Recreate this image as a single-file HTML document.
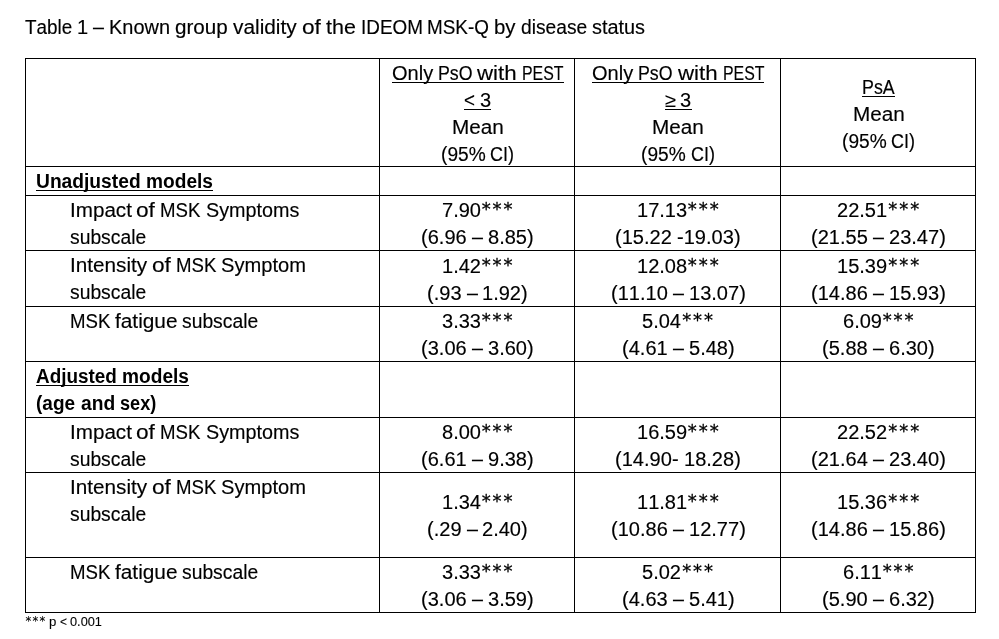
<!DOCTYPE html>
<html lang="en">
<head>
<meta charset="utf-8">
<title>Table 1 – Known group validity of the IDEOM MSK-Q by disease status</title>
<style>
  html, body { margin: 0; padding: 0; background: #fff; }
  body {
    width: 999px; height: 639px; position: relative; overflow: hidden;
    font-family: "Liberation Sans", "DejaVu Sans", sans-serif;
    font-size: 19.5px; line-height: 27px; color: #000;
    font-kerning: none; word-spacing: -0.44px;
    -webkit-text-stroke: 0.15px #000;
  }
  .caption { position: absolute; left: 25px; top: 14px; margin: 0; white-space: nowrap; }
  table {
    position: absolute; left: 25px; top: 58px;
    border-collapse: collapse; table-layout: fixed; width: 951px;
  }
  td, th {
    border: 1px solid #000; padding: 0; font-weight: normal;
    text-align: center; vertical-align: middle; white-space: nowrap;
  }
  td > div, th > div { position: relative; top: 1px; left: 0.6px; }
  thead th > div { margin-bottom: -1px; }
  .t { display: inline-block; text-decoration: none; }
  .w { display: inline-block; transform-origin: 0 50%; }
  .a { display: inline-block; position: relative; left: 1px; top: -2px; font-family: "DejaVu Sans", "Liberation Sans", sans-serif; font-size: 18px; line-height: 20px; letter-spacing: 1.96px; vertical-align: baseline; -webkit-text-stroke: 0.3px #000; }
  u.t { background: linear-gradient(#000, #000) 0 22px / 100% 1px no-repeat; }
  th.lbl { text-align: left; vertical-align: top; }
  th.sec { font-weight: bold; -webkit-text-stroke: 0; }
  th.sec > div { padding-left: 9.9px; }
  th.sub > div { padding-left: 43px; }
  .foot { position: absolute; left: 25px; top: 613px; margin: 0; font-size: 12.41px; line-height: 18px; white-space: nowrap; word-spacing: -0.28px; -webkit-text-stroke: 0.1px #000; }
  .foot .a { font-size: 11.5px; line-height: 12px; letter-spacing: 1.22px; left: 0.6px; top: -1.3px; -webkit-text-stroke: 0.1px #000; }
</style>
</head>
<body>
<p class="caption"><span class="t"><span class="w" style="transform:scaleX(0.9679);margin-right:-1.57px">Table</span> <span class="w" style="transform:scaleX(1.0282);margin-right:0.31px">1</span> <span class="w" style="transform:scaleX(1.0103);margin-right:0.11px">–</span> <span class="w" style="transform:scaleX(1.0243);margin-right:1.45px">Known</span> <span class="w" style="transform:scaleX(1.0576);margin-right:2.87px">group</span> <span class="w" style="transform:scaleX(1.0688);margin-right:4.10px">validity</span> <span class="w" style="transform:scaleX(1.1631);margin-right:2.65px">of</span> <span class="w" style="transform:scaleX(1.1021);margin-right:2.77px">the</span> <span class="w" style="transform:scaleX(0.9684);margin-right:-2.02px">IDEOM</span> <span class="w" style="transform:scaleX(0.9682);margin-right:-2.03px">MSK-Q</span> <span class="w" style="transform:scaleX(1.0448);margin-right:0.92px">by</span> <span class="w" style="transform:scaleX(0.9856);margin-right:-0.97px">disease</span> <span class="w" style="transform:scaleX(1.0196);margin-right:1.02px">status</span></span></p>
<table>
  <colgroup><col style="width:354px"><col style="width:195px"><col style="width:206px"><col style="width:195px"></colgroup>
  <thead>
  <tr style="height:108px">
    <th class="lbl"></th>
    <th scope="col"><div><u class="t"><span class="w" style="transform:scaleX(1.0259);margin-right:1.04px">Only</span> <span class="w" style="transform:scaleX(0.9107);margin-right:-3.39px">PsO</span> <span class="w" style="transform:scaleX(1.1449);margin-right:5.03px">with</span> <span class="w" style="transform:scaleX(0.8136);margin-right:-9.49px">PEST</span></u><br><u class="t"><span class="w" style="transform:scaleX(0.9622);margin-right:-0.43px">&lt;</span> <span class="w" style="transform:scaleX(1.0282);margin-right:0.31px">3</span></u><br><span class="t"><span class="w" style="transform:scaleX(1.0630);margin-right:3.07px">Mean</span></span><br><span class="t"><span class="w" style="transform:scaleX(0.9819);margin-right:-0.82px">(95%</span> <span class="w" style="transform:scaleX(0.9212);margin-right:-2.05px">CI)</span></span></div></th>
    <th scope="col"><div><u class="t"><span class="w" style="transform:scaleX(1.0259);margin-right:1.04px">Only</span> <span class="w" style="transform:scaleX(0.9107);margin-right:-3.39px">PsO</span> <span class="w" style="transform:scaleX(1.1449);margin-right:5.03px">with</span> <span class="w" style="transform:scaleX(0.8136);margin-right:-9.49px">PEST</span></u><br><u class="t"><span class="w" style="transform:scaleX(1.0238);margin-right:0.25px">≥</span> <span class="w" style="transform:scaleX(1.0282);margin-right:0.31px">3</span></u><br><span class="t"><span class="w" style="transform:scaleX(1.0630);margin-right:3.07px">Mean</span></span><br><span class="t"><span class="w" style="transform:scaleX(0.9819);margin-right:-0.82px">(95%</span> <span class="w" style="transform:scaleX(0.9212);margin-right:-2.05px">CI)</span></span></div></th>
    <th scope="col"><div><u class="t"><span class="w" style="transform:scaleX(0.9143);margin-right:-3.06px">PsA</span></u><br><span class="t"><span class="w" style="transform:scaleX(1.0630);margin-right:3.07px">Mean</span></span><br><span class="t"><span class="w" style="transform:scaleX(0.9819);margin-right:-0.82px">(95%</span> <span class="w" style="transform:scaleX(0.9212);margin-right:-2.05px">CI)</span></span></div></th>
  </tr>
  </thead>
  <tbody>
  <tr style="height:29px">
    <th scope="row" class="lbl sec"><div><u class="t"><span class="w" style="transform:scaleX(0.9853);margin-right:-1.56px">Unadjusted</span> <span class="w" style="transform:scaleX(0.9809);margin-right:-1.30px">models</span></u></div></th>
    <td></td>
    <td></td>
    <td></td>
  </tr>
  <tr style="height:55px">
    <th scope="row" class="lbl sub"><div><span class="t"><span class="w" style="transform:scaleX(1.0575);margin-right:3.37px">Impact</span> <span class="w" style="transform:scaleX(1.1631);margin-right:2.65px">of</span> <span class="w" style="transform:scaleX(0.9548);margin-right:-1.91px">MSK</span> <span class="w" style="transform:scaleX(1.0135);margin-right:1.25px">Symptoms</span></span><br><span class="t"><span class="w" style="transform:scaleX(0.9896);margin-right:-0.80px">subscale</span></span></div></th>
    <td><div><span class="t"><span class="w" style="transform:scaleX(1.0277);margin-right:1.05px">7.90</span><span class="a">***</span></span><br><span class="t"><span class="w" style="transform:scaleX(1.0277);margin-right:1.23px">(6.96</span> <span class="w" style="transform:scaleX(1.0103);margin-right:0.11px">–</span> <span class="w" style="transform:scaleX(1.0277);margin-right:1.23px">8.85)</span></span></div></td>
    <td><div><span class="t"><span class="w" style="transform:scaleX(1.0278);margin-right:1.36px">17.13</span><span class="a">***</span></span><br><span class="t"><span class="w" style="transform:scaleX(1.0278);margin-right:1.53px">(15.22</span> <span class="w" style="transform:scaleX(1.0288);margin-right:1.78px">-19.03)</span></span></div></td>
    <td><div><span class="t"><span class="w" style="transform:scaleX(1.0278);margin-right:1.36px">22.51</span><span class="a">***</span></span><br><span class="t"><span class="w" style="transform:scaleX(1.0278);margin-right:1.53px">(21.55</span> <span class="w" style="transform:scaleX(1.0103);margin-right:0.11px">–</span> <span class="w" style="transform:scaleX(1.0278);margin-right:1.53px">23.47)</span></span></div></td>
  </tr>
  <tr style="height:56px">
    <th scope="row" class="lbl sub"><div><span class="t"><span class="w" style="transform:scaleX(1.0625);margin-right:4.54px">Intensity</span> <span class="w" style="transform:scaleX(1.1631);margin-right:2.65px">of</span> <span class="w" style="transform:scaleX(0.9548);margin-right:-1.91px">MSK</span> <span class="w" style="transform:scaleX(1.0315);margin-right:2.59px">Symptom</span></span><br><span class="t"><span class="w" style="transform:scaleX(0.9896);margin-right:-0.80px">subscale</span></span></div></th>
    <td><div><span class="t"><span class="w" style="transform:scaleX(1.0277);margin-right:1.05px">1.42</span><span class="a">***</span></span><br><span class="t"><span class="w" style="transform:scaleX(1.0275);margin-right:0.92px">(.93</span> <span class="w" style="transform:scaleX(1.0103);margin-right:0.11px">–</span> <span class="w" style="transform:scaleX(1.0277);margin-right:1.23px">1.92)</span></span></div></td>
    <td><div><span class="t"><span class="w" style="transform:scaleX(1.0278);margin-right:1.36px">12.08</span><span class="a">***</span></span><br><span class="t"><span class="w" style="transform:scaleX(1.0278);margin-right:1.53px">(11.10</span> <span class="w" style="transform:scaleX(1.0103);margin-right:0.11px">–</span> <span class="w" style="transform:scaleX(1.0278);margin-right:1.53px">13.07)</span></span></div></td>
    <td><div><span class="t"><span class="w" style="transform:scaleX(1.0278);margin-right:1.36px">15.39</span><span class="a">***</span></span><br><span class="t"><span class="w" style="transform:scaleX(1.0278);margin-right:1.53px">(14.86</span> <span class="w" style="transform:scaleX(1.0103);margin-right:0.11px">–</span> <span class="w" style="transform:scaleX(1.0278);margin-right:1.53px">15.93)</span></span></div></td>
  </tr>
  <tr style="height:55px">
    <th scope="row" class="lbl sub"><div><span class="t"><span class="w" style="transform:scaleX(0.9548);margin-right:-1.91px">MSK</span> <span class="w" style="transform:scaleX(1.0680);margin-right:3.98px">fatigue</span> <span class="w" style="transform:scaleX(0.9896);margin-right:-0.80px">subscale</span></span></div></th>
    <td><div><span class="t"><span class="w" style="transform:scaleX(1.0277);margin-right:1.05px">3.33</span><span class="a">***</span></span><br><span class="t"><span class="w" style="transform:scaleX(1.0277);margin-right:1.23px">(3.06</span> <span class="w" style="transform:scaleX(1.0103);margin-right:0.11px">–</span> <span class="w" style="transform:scaleX(1.0277);margin-right:1.23px">3.60)</span></span></div></td>
    <td><div><span class="t"><span class="w" style="transform:scaleX(1.0277);margin-right:1.05px">5.04</span><span class="a">***</span></span><br><span class="t"><span class="w" style="transform:scaleX(1.0277);margin-right:1.23px">(4.61</span> <span class="w" style="transform:scaleX(1.0103);margin-right:0.11px">–</span> <span class="w" style="transform:scaleX(1.0277);margin-right:1.23px">5.48)</span></span></div></td>
    <td><div><span class="t"><span class="w" style="transform:scaleX(1.0277);margin-right:1.05px">6.09</span><span class="a">***</span></span><br><span class="t"><span class="w" style="transform:scaleX(1.0277);margin-right:1.23px">(5.88</span> <span class="w" style="transform:scaleX(1.0103);margin-right:0.11px">–</span> <span class="w" style="transform:scaleX(1.0277);margin-right:1.23px">6.30)</span></span></div></td>
  </tr>
  <tr style="height:56px">
    <th scope="row" class="lbl sec"><div><u class="t"><span class="w" style="transform:scaleX(0.9684);margin-right:-2.64px">Adjusted</span> <span class="w" style="transform:scaleX(0.9809);margin-right:-1.30px">models</span></u><br><span class="t"><span class="w" style="transform:scaleX(0.9749);margin-right:-1.01px">(age</span> <span class="w" style="transform:scaleX(0.9854);margin-right:-0.51px">and</span> <span class="w" style="transform:scaleX(0.9297);margin-right:-2.74px">sex)</span></span></div></th>
    <td></td>
    <td></td>
    <td></td>
  </tr>
  <tr style="height:55px">
    <th scope="row" class="lbl sub"><div><span class="t"><span class="w" style="transform:scaleX(1.0575);margin-right:3.37px">Impact</span> <span class="w" style="transform:scaleX(1.1631);margin-right:2.65px">of</span> <span class="w" style="transform:scaleX(0.9548);margin-right:-1.91px">MSK</span> <span class="w" style="transform:scaleX(1.0135);margin-right:1.25px">Symptoms</span></span><br><span class="t"><span class="w" style="transform:scaleX(0.9896);margin-right:-0.80px">subscale</span></span></div></th>
    <td><div><span class="t"><span class="w" style="transform:scaleX(1.0277);margin-right:1.05px">8.00</span><span class="a">***</span></span><br><span class="t"><span class="w" style="transform:scaleX(1.0277);margin-right:1.23px">(6.61</span> <span class="w" style="transform:scaleX(1.0103);margin-right:0.11px">–</span> <span class="w" style="transform:scaleX(1.0277);margin-right:1.23px">9.38)</span></span></div></td>
    <td><div><span class="t"><span class="w" style="transform:scaleX(1.0278);margin-right:1.36px">16.59</span><span class="a">***</span></span><br><span class="t"><span class="w" style="transform:scaleX(1.0288);margin-right:1.78px">(14.90-</span> <span class="w" style="transform:scaleX(1.0278);margin-right:1.53px">18.28)</span></span></div></td>
    <td><div><span class="t"><span class="w" style="transform:scaleX(1.0278);margin-right:1.36px">22.52</span><span class="a">***</span></span><br><span class="t"><span class="w" style="transform:scaleX(1.0278);margin-right:1.53px">(21.64</span> <span class="w" style="transform:scaleX(1.0103);margin-right:0.11px">–</span> <span class="w" style="transform:scaleX(1.0278);margin-right:1.53px">23.40)</span></span></div></td>
  </tr>
  <tr style="height:85px">
    <th scope="row" class="lbl sub"><div><span class="t"><span class="w" style="transform:scaleX(1.0625);margin-right:4.54px">Intensity</span> <span class="w" style="transform:scaleX(1.1631);margin-right:2.65px">of</span> <span class="w" style="transform:scaleX(0.9548);margin-right:-1.91px">MSK</span> <span class="w" style="transform:scaleX(1.0315);margin-right:2.59px">Symptom</span></span><br><span class="t"><span class="w" style="transform:scaleX(0.9896);margin-right:-0.80px">subscale</span></span></div></th>
    <td><div><span class="t"><span class="w" style="transform:scaleX(1.0277);margin-right:1.05px">1.34</span><span class="a">***</span></span><br><span class="t"><span class="w" style="transform:scaleX(1.0275);margin-right:0.92px">(.29</span> <span class="w" style="transform:scaleX(1.0103);margin-right:0.11px">–</span> <span class="w" style="transform:scaleX(1.0277);margin-right:1.23px">2.40)</span></span></div></td>
    <td><div><span class="t"><span class="w" style="transform:scaleX(1.0278);margin-right:1.36px">11.81</span><span class="a">***</span></span><br><span class="t"><span class="w" style="transform:scaleX(1.0278);margin-right:1.53px">(10.86</span> <span class="w" style="transform:scaleX(1.0103);margin-right:0.11px">–</span> <span class="w" style="transform:scaleX(1.0278);margin-right:1.53px">12.77)</span></span></div></td>
    <td><div><span class="t"><span class="w" style="transform:scaleX(1.0278);margin-right:1.36px">15.36</span><span class="a">***</span></span><br><span class="t"><span class="w" style="transform:scaleX(1.0278);margin-right:1.53px">(14.86</span> <span class="w" style="transform:scaleX(1.0103);margin-right:0.11px">–</span> <span class="w" style="transform:scaleX(1.0278);margin-right:1.53px">15.86)</span></span></div></td>
  </tr>
  <tr style="height:55px">
    <th scope="row" class="lbl sub"><div><span class="t"><span class="w" style="transform:scaleX(0.9548);margin-right:-1.91px">MSK</span> <span class="w" style="transform:scaleX(1.0680);margin-right:3.98px">fatigue</span> <span class="w" style="transform:scaleX(0.9896);margin-right:-0.80px">subscale</span></span></div></th>
    <td><div><span class="t"><span class="w" style="transform:scaleX(1.0277);margin-right:1.05px">3.33</span><span class="a">***</span></span><br><span class="t"><span class="w" style="transform:scaleX(1.0277);margin-right:1.23px">(3.06</span> <span class="w" style="transform:scaleX(1.0103);margin-right:0.11px">–</span> <span class="w" style="transform:scaleX(1.0277);margin-right:1.23px">3.59)</span></span></div></td>
    <td><div><span class="t"><span class="w" style="transform:scaleX(1.0277);margin-right:1.05px">5.02</span><span class="a">***</span></span><br><span class="t"><span class="w" style="transform:scaleX(1.0277);margin-right:1.23px">(4.63</span> <span class="w" style="transform:scaleX(1.0103);margin-right:0.11px">–</span> <span class="w" style="transform:scaleX(1.0277);margin-right:1.23px">5.41)</span></span></div></td>
    <td><div><span class="t"><span class="w" style="transform:scaleX(1.0277);margin-right:1.05px">6.11</span><span class="a">***</span></span><br><span class="t"><span class="w" style="transform:scaleX(1.0277);margin-right:1.23px">(5.90</span> <span class="w" style="transform:scaleX(1.0103);margin-right:0.11px">–</span> <span class="w" style="transform:scaleX(1.0277);margin-right:1.23px">6.32)</span></span></div></td>
  </tr>
  </tbody>
</table>
<p class="foot"><span class="t"><span class="a">***</span> <span class="w" style="transform:scaleX(1.0658);margin-right:0.45px">p</span> <span class="w" style="transform:scaleX(0.9622);margin-right:-0.27px">&lt;</span> <span class="w" style="transform:scaleX(1.0278);margin-right:0.86px">0.001</span></span></p>
</body>
</html>
